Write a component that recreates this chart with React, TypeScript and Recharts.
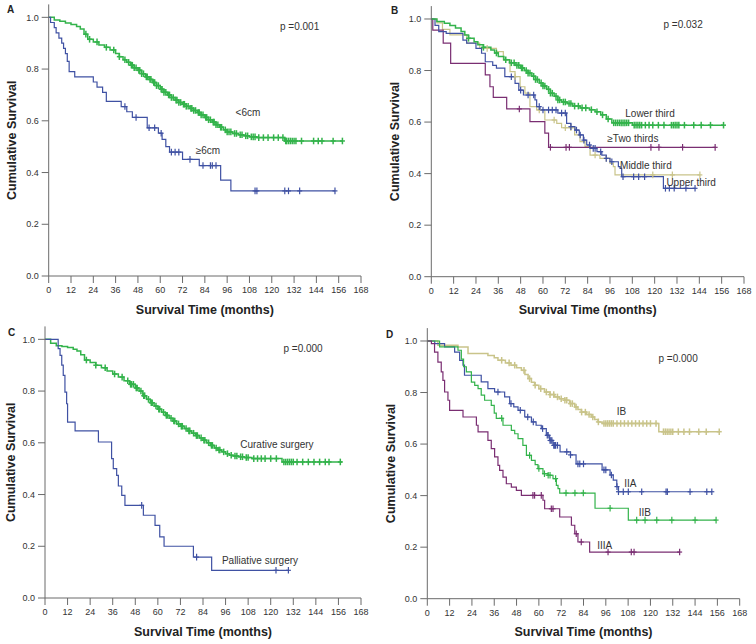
import { ComposedChart, Line, XAxis, YAxis, ReferenceDot } from 'recharts';

const MONTH_TICKS = [0, 12, 24, 36, 48, 60, 72, 84, 96, 108, 120, 132, 144, 156, 168];
const SURV_TICKS = [0, 0.2, 0.4, 0.6, 0.8, 1.0];

const GREEN = '#33b34b';
const BLUE = '#3f51a3';
const PURPLE = '#7a2e72';
const KHAKI = '#c9c48a';
const AXIS = '#6b6b6b';

// A: tumour size
const aSmallTimes = [0, 3, 6, 9, 12, 15, 17, 19, 21, 24, 27, 30, 33, 36, 38, 40, 42, 44, 46, 48, 50, 52, 54, 56, 58, 60, 62, 64, 66, 68, 70, 72, 74, 76, 78, 80, 82, 84, 86, 88, 90, 92, 94, 96, 99, 102, 105, 108, 112, 127, 158];
const aSmallSurv = [1.0, 0.99, 0.985, 0.978, 0.972, 0.965, 0.955, 0.935, 0.915, 0.905, 0.893, 0.884, 0.874, 0.86, 0.848, 0.836, 0.826, 0.815, 0.805, 0.795, 0.782, 0.77, 0.76, 0.748, 0.736, 0.722, 0.71, 0.7, 0.69, 0.68, 0.671, 0.664, 0.656, 0.648, 0.64, 0.632, 0.623, 0.613, 0.604, 0.595, 0.585, 0.575, 0.565, 0.557, 0.551, 0.546, 0.542, 0.538, 0.535, 0.522, 0.522];
const aSmallCens = [20, 22, 26, 31, 35, 38, 41, 43, 44.5, 45, 46, 47, 48.5, 49, 50, 51, 52.5, 53, 54.5, 55, 56.5, 57, 58, 59, 60.5, 61, 62, 63, 64.5, 65, 66, 67, 68.5, 69, 70, 71, 72.5, 73, 74, 75, 76.5, 77, 78, 79, 80.5, 81, 82, 83, 84.5, 85, 86, 87, 88.5, 89, 90, 91, 92.5, 93, 95, 96, 97, 98, 100, 101, 103, 104, 106, 107, 109, 110, 111, 113, 115.5, 118, 121, 123.5, 126, 127.5, 128, 129, 130, 131, 132, 133, 136, 142.5, 145, 147, 153, 158];
const aLargeTimes = [0, 1, 3, 4, 5.5, 7, 8, 9, 10, 11, 14, 24, 26, 29, 31, 39, 42, 45, 53, 59, 61, 63, 65, 72, 81, 92.5, 98, 154];
const aLargeSurv = [1.0, 0.98, 0.96, 0.94, 0.92, 0.9, 0.88, 0.86, 0.83, 0.79, 0.77, 0.75, 0.73, 0.71, 0.675, 0.655, 0.635, 0.613, 0.573, 0.552, 0.528, 0.5, 0.479, 0.451, 0.427, 0.371, 0.329, 0.329];
const aLargeCens = [41, 47, 54, 57, 60.5, 66, 68, 70, 76, 83, 87, 88, 90, 111, 112, 127, 129, 135, 154];

// B: tumour location
const bLowerTimes = [0, 3, 7, 10, 13, 16, 18, 20, 23, 25, 28, 32, 34, 36, 39, 42, 45, 48, 50, 52, 54, 56, 58, 60, 62, 64, 66, 68, 70, 73, 76, 80, 85, 88, 91, 94, 97, 108, 157];
const bLowerSurv = [1.0, 0.99, 0.983, 0.975, 0.965, 0.951, 0.938, 0.925, 0.912, 0.9, 0.89, 0.88, 0.868, 0.854, 0.842, 0.83, 0.82, 0.81, 0.8, 0.79, 0.778, 0.765, 0.752, 0.74, 0.727, 0.712, 0.7, 0.686, 0.678, 0.672, 0.662, 0.655, 0.648, 0.64, 0.628, 0.612, 0.597, 0.588, 0.588];
const bLowerCens = [20, 28, 35, 40, 43, 44.5, 46, 47, 48.5, 49, 51, 52, 53, 55, 56, 57, 59, 60, 61, 63, 64, 65, 67, 68, 69, 71, 72, 74, 75, 77, 79, 81, 83, 86, 89, 92, 95, 98, 99, 100, 101, 102, 103, 104, 105, 106, 109, 110, 111, 112, 113, 115, 117, 119, 122, 125, 129, 130, 131, 132, 133, 136, 141, 145, 150, 157];
const bUpperTimes = [0, 2, 4, 8, 17, 19, 24, 27, 29, 33, 35, 39.5, 45, 47, 49.5, 55.7, 56.6, 58.4, 68, 72.7, 75, 77.2, 79.5, 81.7, 83.5, 85.3, 89, 91.6, 94, 96, 100.5, 101.4, 102.3, 124.7, 141.7];
const bUpperSurv = [1.0, 0.975, 0.951, 0.944, 0.918, 0.906, 0.886, 0.867, 0.834, 0.82, 0.809, 0.776, 0.75, 0.724, 0.705, 0.686, 0.66, 0.647, 0.635, 0.595, 0.582, 0.569, 0.55, 0.53, 0.511, 0.498, 0.485, 0.472, 0.459, 0.446, 0.427, 0.42, 0.388, 0.343, 0.343];
const bUpperCens = [43, 48, 52, 55, 58, 60, 63, 65, 67, 70, 72, 75, 78, 80, 82, 85, 87, 88, 91, 94, 97, 103, 108.7, 111.4, 114.6, 125.8, 127.9, 130.5, 136.8, 141.7];
const bMiddleTimes = [0, 3, 6, 10, 19, 26, 35, 38.7, 42.3, 45, 47.7, 50.3, 53, 56.6, 61, 67.4, 70, 77, 79.9, 82.6, 85.3, 90.6, 96, 97.8, 98.7, 144.3];
const bMiddleSurv = [1.0, 0.985, 0.96, 0.938, 0.906, 0.886, 0.873, 0.841, 0.796, 0.776, 0.737, 0.712, 0.66, 0.647, 0.608, 0.595, 0.578, 0.55, 0.524, 0.505, 0.472, 0.459, 0.44, 0.427, 0.395, 0.395];
const bMiddleCens = [30, 45, 58, 66, 72, 75, 88, 94, 119, 129.5, 144.3];
const bTwoTimes = [0, 0.8, 6.4, 10.4, 29, 31.5, 33.3, 40.5, 53, 61, 63, 152.5];
const bTwoSurv = [1.0, 0.957, 0.906, 0.828, 0.783, 0.737, 0.696, 0.651, 0.602, 0.557, 0.502, 0.502];
const bTwoCens = [47.3, 64, 72.4, 74.2, 118, 122.3, 135, 152.5];

// C: type of surgery
const cCurTimes = [0, 3, 6, 9, 12, 15, 17, 19, 21, 24, 27, 30, 33, 36, 39, 42, 45, 48, 50, 52, 54, 56, 58, 60, 62, 64, 66, 68, 70, 72, 74, 76, 78, 80, 82, 84, 86, 88, 90, 92, 94, 96, 98, 100, 103, 106, 110, 126, 158];
const cCurSurv = [1.0, 0.985, 0.975, 0.972, 0.968, 0.962, 0.955, 0.94, 0.92, 0.91, 0.9, 0.89, 0.878, 0.866, 0.854, 0.84, 0.826, 0.812, 0.8, 0.782, 0.768, 0.755, 0.742, 0.73, 0.718, 0.706, 0.695, 0.684, 0.673, 0.664, 0.655, 0.646, 0.637, 0.628, 0.619, 0.61, 0.6, 0.59, 0.58, 0.572, 0.565, 0.558, 0.552, 0.549, 0.546, 0.543, 0.539, 0.526, 0.526];
const cCurCens = [22, 27, 32, 37, 41, 44, 45.5, 46, 47, 48.5, 49, 51, 52.5, 53, 55, 56.5, 57, 59, 60.5, 61, 63, 64.5, 65, 67, 68.5, 69, 71, 72.5, 73, 75, 76.5, 77, 79, 80.5, 81, 83, 84.5, 85, 87, 88.5, 89, 91, 92.5, 93, 95, 97, 99, 101, 102, 104, 105, 107, 108, 111, 113, 115, 117, 120, 123, 127, 128, 129, 130, 131, 132, 134, 137, 140, 143, 146, 149, 151, 157];
const cPalTimes = [0, 7, 8, 8.9, 9.7, 10.6, 11.5, 12, 16, 28.4, 35.4, 36.3, 38.1, 39, 40.8, 42.5, 52.3, 58.5, 61, 63.3, 78.9, 88.6, 129.4];
const cPalSurv = [1.0, 0.964, 0.938, 0.9, 0.861, 0.796, 0.751, 0.68, 0.646, 0.603, 0.539, 0.5, 0.474, 0.433, 0.397, 0.358, 0.32, 0.281, 0.236, 0.2, 0.158, 0.107, 0.107];
const cPalCens = [51.4, 80.6, 122.8, 129.4];

// D: TNM stage
const dIBTimes = [0, 5.7, 16.5, 21.9, 32.6, 36, 38, 42, 45, 48, 50.6, 52.5, 54.2, 56, 57.7, 60, 63, 66, 68.5, 71, 73.9, 76.5, 79.3, 81, 82.8, 85.5, 88.2, 90, 91.8, 94, 124.5, 157];
const dIBSurv = [1.0, 0.983, 0.977, 0.951, 0.944, 0.935, 0.925, 0.915, 0.906, 0.896, 0.886, 0.87, 0.854, 0.84, 0.828, 0.815, 0.802, 0.792, 0.783, 0.776, 0.77, 0.757, 0.744, 0.734, 0.724, 0.715, 0.705, 0.695, 0.686, 0.68, 0.648, 0.648];
const dIBCens = [40, 44, 47, 52, 55, 58, 61, 64, 66, 68, 70, 72, 74, 75, 77, 78, 80, 83, 85, 87, 89, 92, 95, 96, 97, 98, 99, 100, 102, 104, 106, 108, 110, 112, 114, 116, 118, 120, 123, 127, 128, 129, 130, 131, 132, 135, 138, 141, 146, 150, 157];
const dIIATimes = [0, 4, 9.3, 14.7, 17.4, 19.2, 20, 29, 32.6, 36.2, 41.6, 44.3, 46.5, 48.8, 52.4, 56, 58.5, 61.3, 64, 65.8, 67.6, 71.4, 77, 80, 94, 98.3, 100, 101.9, 102.8, 153];
const dIIASurv = [1.0, 0.99, 0.977, 0.957, 0.925, 0.906, 0.867, 0.841, 0.815, 0.802, 0.783, 0.757, 0.744, 0.731, 0.705, 0.686, 0.673, 0.66, 0.634, 0.614, 0.595, 0.57, 0.558, 0.523, 0.5, 0.48, 0.46, 0.435, 0.415, 0.415];
const dIIACens = [38, 45, 50, 54, 57, 62, 64.5, 65, 66, 66.5, 67, 68, 68.5, 69, 70, 75, 77, 81, 82, 84, 95, 96, 99, 102, 102.8, 105.4, 108.1, 115.3, 128.4, 129.1, 141.3, 150.3, 153];
const dIIBTimes = [0, 6.6, 16.5, 18.3, 19.5, 21, 23.7, 25.5, 27.3, 29, 30.8, 34.4, 36, 37.1, 40.7, 45.2, 47, 48.8, 51.4, 53.3, 56, 58, 59.5, 62.2, 64.9, 67.6, 69.4, 70.3, 71.2, 90.2, 108.1, 155.3];
const dIIBSurv = [1.0, 0.977, 0.964, 0.93, 0.9, 0.88, 0.84, 0.828, 0.815, 0.79, 0.77, 0.75, 0.72, 0.7, 0.673, 0.653, 0.64, 0.621, 0.595, 0.556, 0.537, 0.52, 0.505, 0.485, 0.479, 0.466, 0.44, 0.427, 0.41, 0.351, 0.305, 0.305];
const dIIBCens = [40, 55, 60, 63, 65, 66, 69, 74.6, 79.4, 83.9, 98.3, 112.6, 117.1, 123.4, 131.5, 144, 155.3];
const dIIIATimes = [0, 2.2, 3.9, 5.7, 7.5, 8.4, 9.3, 11.1, 12, 19.2, 26.4, 27.3, 32.6, 34.4, 36.2, 38, 38.9, 40.7, 42.5, 45.2, 47.9, 50.6, 62.2, 63.1, 71.2, 77.5, 79.3, 81, 87.3, 135.7];
const dIIIASurv = [1.0, 0.99, 0.957, 0.918, 0.88, 0.847, 0.802, 0.77, 0.731, 0.705, 0.673, 0.647, 0.614, 0.582, 0.55, 0.517, 0.498, 0.472, 0.446, 0.433, 0.42, 0.401, 0.382, 0.349, 0.317, 0.285, 0.252, 0.22, 0.181, 0.181];
const dIIIACens = [56.8, 57.7, 61.3, 66.7, 67.6, 80.1, 82.8, 97.2, 109.7, 111.2, 135.7];

type Curve = { color: string; times: number[]; surv: number[]; cens: number[]; width?: number };
type Note = { text: string; t: number; s: number };

const valueAt = (times: number[], surv: number[], t: number) => {
  let v = surv[0];
  times.forEach((x, i) => { if (x <= t) v = surv[i]; });
  return v;
};

const buildSeries = (c: Curve) => {
  const pts = c.times.map((t, i) => ({ t, s: c.surv[i], cens: false }));
  c.cens.forEach(t => pts.push({ t, s: valueAt(c.times, c.surv, t), cens: true }));
  pts.sort((a, b) => a.t - b.t || Number(a.cens) - Number(b.cens));
  return pts;
};

const censorDot = (color: string, w: number) => (props: any) => {
  const { cx, cy, payload, index } = props;
  if (!payload || !payload.cens) return <g key={`n${index}`} />;
  return (
    <g key={`c${index}`} stroke={color} strokeWidth={w}>
      <line x1={cx} y1={cy - 3.3} x2={cx} y2={cy + 3.3} />
      <line x1={cx - 2.5} y1={cy} x2={cx + 2.5} y2={cy} />
    </g>
  );
};

interface PanelProps {
  letter: string;
  letterPos: [number, number];
  yTitleX: number;
  x0: number;
  x1: number;
  yTop: number;
  yBottom: number;
  curves: Curve[];
  notes: Note[];
}

const Panel = ({ letter, letterPos, yTitleX, x0, x1, yTop, yBottom, curves, notes }: PanelProps) => {
  const YW = 40;
  const XH = 30;
  return (
    <div style={{ position: 'relative', width: 378, height: 322 }}>
      <ComposedChart
        width={378}
        height={322}
        margin={{ top: yTop, right: 378 - x1, left: x0 - YW, bottom: 322 - yBottom - XH }}
        style={{ fontFamily: '"Liberation Sans", Arial, sans-serif' }}
      >
        <XAxis
          type="number"
          dataKey="t"
          domain={[0, 168]}
          ticks={MONTH_TICKS}
          interval={0}
          height={XH}
          tickSize={7}
          tickMargin={4}
          axisLine={{ stroke: AXIS }}
          tickLine={{ stroke: AXIS }}
          tick={{ fontSize: 9, fill: '#333' }}
        />
        <YAxis
          type="number"
          domain={[0, 1.05]}
          ticks={SURV_TICKS}
          width={YW}
          tickSize={7}
          tickMargin={3}
          tickFormatter={(v: number) => v.toFixed(1)}
          axisLine={{ stroke: AXIS }}
          tickLine={{ stroke: AXIS }}
          tick={{ fontSize: 9, fill: '#333' }}
        />
        {curves.map((c, i) => (
          <Line
            key={i}
            data={buildSeries(c)}
            dataKey="s"
            type="stepAfter"
            stroke={c.color}
            strokeWidth={c.width ?? 1.2}
            dot={censorDot(c.color, c.width ?? 1.2)}
            activeDot={false}
            isAnimationActive={false}
          />
        ))}
        {notes.map((n, i) => (
          <ReferenceDot
            key={`note${i}`}
            x={n.t}
            y={n.s}
            r={0}
            stroke="none"
            fill="none"
            label={{ value: n.text, position: 'center', fontSize: 10, fill: '#333' }}
          />
        ))}
      </ComposedChart>
      <svg
        width={378}
        height={322}
        style={{ position: 'absolute', left: 0, top: 0, pointerEvents: 'none', fontFamily: '"Liberation Sans", Arial, sans-serif' }}
      >
        <text x={letterPos[0]} y={letterPos[1]} fontSize={10} fontWeight="bold" fill="#222">{letter}</text>
        <text
          x={yTitleX}
          y={(yTop + yBottom) / 2}
          transform={`rotate(-90 ${yTitleX} ${(yTop + yBottom) / 2})`}
          textAnchor="middle"
          fontSize={12.5}
          fontWeight="bold"
          fill="#222"
        >
          Cumulative Survival
        </text>
        <text x={(x0 + x1) / 2} y={313.5} textAnchor="middle" fontSize={12.5} fontWeight="bold" fill="#222">
          Survival Time (months)
        </text>
      </svg>
    </div>
  );
};

const panelA: Curve[] = [
  { color: GREEN, times: aSmallTimes, surv: aSmallSurv, cens: aSmallCens, width: 1.5 },
  { color: BLUE, times: aLargeTimes, surv: aLargeSurv, cens: aLargeCens },
];
const panelB: Curve[] = [
  { color: KHAKI, times: bMiddleTimes, surv: bMiddleSurv, cens: bMiddleCens },
  { color: PURPLE, times: bTwoTimes, surv: bTwoSurv, cens: bTwoCens },
  { color: BLUE, times: bUpperTimes, surv: bUpperSurv, cens: bUpperCens },
  { color: GREEN, times: bLowerTimes, surv: bLowerSurv, cens: bLowerCens, width: 1.5 },
];
const panelC: Curve[] = [
  { color: GREEN, times: cCurTimes, surv: cCurSurv, cens: cCurCens, width: 1.5 },
  { color: BLUE, times: cPalTimes, surv: cPalSurv, cens: cPalCens },
];
const panelD: Curve[] = [
  { color: KHAKI, times: dIBTimes, surv: dIBSurv, cens: dIBCens, width: 1.5 },
  { color: BLUE, times: dIIATimes, surv: dIIASurv, cens: dIIACens },
  { color: GREEN, times: dIIBTimes, surv: dIIBSurv, cens: dIIBCens },
  { color: PURPLE, times: dIIIATimes, surv: dIIIASurv, cens: dIIIACens },
];

const notesA: Note[] = [
  { text: 'p =0.001', t: 135, s: 0.963 },
  { text: '<6cm', t: 107.2, s: 0.634 },
  { text: '≥6cm', t: 85.7, s: 0.487 },
];
const notesB: Note[] = [
  { text: 'p =0.032', t: 135.3, s: 0.977 },
  { text: 'Lower third', t: 117.5, s: 0.635 },
  { text: '≥Two thirds', t: 108.3, s: 0.538 },
  { text: 'Middle third', t: 115.3, s: 0.43 },
  { text: 'Upper third', t: 139.6, s: 0.367 },
];
const notesC: Note[] = [
  { text: 'p =0.000', t: 137.2, s: 0.966 },
  { text: 'Curative surgery', t: 123.3, s: 0.595 },
  { text: 'Palliative surgery', t: 114.3, s: 0.147 },
];
const notesD: Note[] = [
  { text: 'p =0.000', t: 134.9, s: 0.931 },
  { text: 'IB', t: 104.4, s: 0.728 },
  { text: 'IIA', t: 109.2, s: 0.446 },
  { text: 'IIB', t: 117, s: 0.334 },
  { text: 'IIIA', t: 95.4, s: 0.207 },
];

export default function App() {
  return (
    <div style={{ position: 'absolute', left: 0, top: 0, width: 756, height: 644, background: '#fff', display: 'grid', gridTemplateColumns: '378px 378px', gridTemplateRows: '322px 322px' }}>
      <Panel letter="A" letterPos={[7, 13]} yTitleX={16} x0={48.7} x1={361} yTop={4.4} yBottom={276} curves={panelA} notes={notesA} />
      <Panel letter="B" letterPos={[13, 14]} yTitleX={21} x0={53.3} x1={366} yTop={6.1} yBottom={276.7} curves={panelB} notes={notesB} />
      <Panel letter="C" letterPos={[8, 14]} yTitleX={15} x0={45} x1={361} yTop={4.4} yBottom={276} curves={panelC} notes={notesC} />
      <Panel letter="D" letterPos={[8, 16]} yTitleX={17} x0={49.3} x1={361.7} yTop={6.1} yBottom={276.7} curves={panelD} notes={notesD} />
    </div>
  );
}
